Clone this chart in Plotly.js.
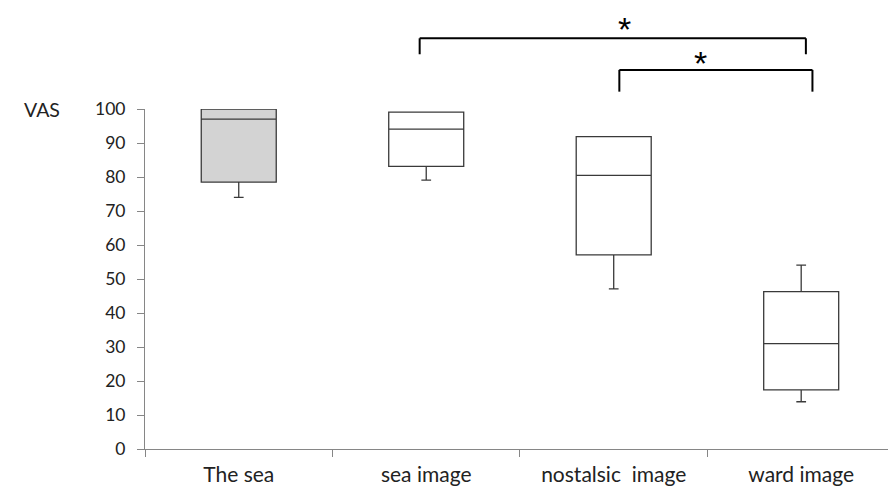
<!DOCTYPE html>
<html>
<head>
<meta charset="utf-8">
<script src="https://cdn.plot.ly/plotly-3.0.1.min.js"></script>
<style>html,body{margin:0;padding:0;background:#fff;}#chart{width:888px;height:489px;}</style>
</head>
<body>
<div id="chart"></div>
<script>
// Data
var categories = ["The sea", "sea image", "nostalsic  image", "ward image"];
var lowerWhisker = [74, 79.1, 47.1, 13.9];
var q1Values = [78.5, 83.1, 57.1, 17.4];
var medianValues = [97.0, 94.1, 80.5, 31.0];
var q3Values = [100, 99.1, 91.9, 46.3];
var upperWhisker = [100, 99.1, 91.9, 54.1];
var fillColors = ["#d3d3d3", "#ffffff", "#ffffff", "#ffffff"];
var yTicks = [0, 10, 20, 30, 40, 50, 60, 70, 80, 90, 100];

// significance brackets (x in category index units, y in VAS units)
var comparisonFrom = [0.965, 2.03];
var comparisonTo = [3.025, 3.06];
var bracketTop = [120.8, 111.5];
var bracketBottom = [116.1, 105.1];
var starX = [2.06, 2.465];
var starY = [123.6, 113.6];

var traces = categories.map(function (c, i) {
  return {
    type: "box",
    x: [c],
    q1: [q1Values[i]],
    median: [medianValues[i]],
    q3: [q3Values[i]],
    lowerfence: [lowerWhisker[i]],
    upperfence: [upperWhisker[i]],
    width: 0.4,
    whiskerwidth: 0.13,
    fillcolor: fillColors[i],
    line: { color: "#3a3a3a", width: 1.3 },
    boxpoints: false,
    hoverinfo: "skip",
    showlegend: false
  };
});

var shapes = [];
var annotations = [];
function seg(x0, y0, x1, y1) {
  shapes.push({
    type: "line", xref: "x", yref: "paper",
    x0: x0, y0: y0 / 100, x1: x1, y1: y1 / 100,
    line: { color: "#000", width: 2 }
  });
}
for (var k = 0; k < comparisonFrom.length; k++) {
  seg(comparisonFrom[k], bracketBottom[k], comparisonFrom[k], bracketTop[k]);
  seg(comparisonFrom[k], bracketTop[k], comparisonTo[k], bracketTop[k]);
  seg(comparisonTo[k], bracketTop[k], comparisonTo[k], bracketBottom[k]);
  annotations.push({
    x: starX[k], xref: "x", y: starY[k] / 100, yref: "paper",
    text: "*", showarrow: false,
    font: { family: "Liberation Sans, Arial", size: 34, color: "#000" },
    xanchor: "center", yanchor: "middle"
  });
}
annotations.push({
  x: -123 / 743, xref: "paper", y: 100, yref: "y",
  text: "VAS", showarrow: false, xanchor: "left", yanchor: "middle",
  font: { family: "Lato, sans-serif", size: 19.5, color: "#222" }
});

var layout = {
  width: 888, height: 489,
  margin: { l: 145, r: 0, t: 109, b: 40 },
  paper_bgcolor: "#fff", plot_bgcolor: "#fff",
  boxmode: "overlay",
  font: { family: "Lato, sans-serif", color: "#222" },
  xaxis: {
    type: "category",
    categoryorder: "array", categoryarray: categories,
    range: [-0.5, 3.463],
    showline: true, linecolor: "#868686", linewidth: 1,
    ticks: "outside", tickson: "boundaries", ticklen: 7, tickcolor: "#868686",
    showgrid: false, zeroline: false,
    tickfont: { size: 21, color: "#222" },
    ticklabelstandoff: 7,
    fixedrange: true
  },
  yaxis: {
    range: [0, 100],
    tickvals: yTicks,
    showline: true, linecolor: "#868686", linewidth: 1,
    ticks: "outside", ticklen: 7, tickcolor: "#868686",
    showgrid: false, zeroline: false,
    tickfont: { size: 17.5, color: "#222" },
    ticklabelstandoff: 8,
    fixedrange: true
  },
  shapes: shapes,
  annotations: annotations
};

Plotly.newPlot("chart", traces, layout, { displayModeBar: false, staticPlot: true });
</script>
</body>
</html>
